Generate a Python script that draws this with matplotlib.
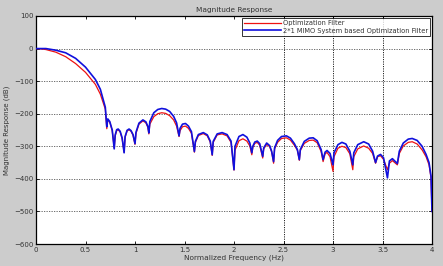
import matplotlib
matplotlib.use("Agg")
import matplotlib.pyplot as plt

title = "Magnitude Response"
xlabel = "Normalized Frequency (Hz)"
ylabel = "Magnitude Response (dB)"
legend_labels = ["Optimization Filter", "2*1 MIMO System based Optimization Filter"]

xticks = [0, 0.5, 1, 1.5, 2, 2.5, 3, 3.5, 4]
xticklabels = ["0", "0.5", "1", "1.5", "2", "2.5", "3", "3.5", "4"]
yticks = [100, 0, -100, -200, -300, -400, -500, -600]

freq = [0, 0.05, 0.1, 0.2, 0.3, 0.4, 0.5, 0.6, 0.65, 0.7, 0.715,
        0.725, 0.745, 0.77, 0.79,
        0.80, 0.815, 0.83, 0.85, 0.87, 0.89,
        0.90, 0.92, 0.94, 0.96, 0.98, 1.00,
        1.01, 1.04, 1.08, 1.11, 1.13, 1.14,
        1.15, 1.19, 1.23, 1.27, 1.31, 1.35, 1.39, 1.42, 1.445,
        1.455, 1.48, 1.51, 1.54, 1.57, 1.60,
        1.61, 1.64, 1.69, 1.73, 1.76, 1.78,
        1.79, 1.83, 1.88, 1.93, 1.97, 2.00,
        2.01, 2.05, 2.09, 2.13, 2.16, 2.18,
        2.19, 2.21, 2.235, 2.26, 2.29,
        2.30, 2.33, 2.36, 2.38, 2.40,
        2.41, 2.44, 2.48, 2.53, 2.57, 2.61, 2.64, 2.66,
        2.67, 2.71, 2.76, 2.80, 2.84, 2.88, 2.90,
        2.92, 2.94, 2.97, 3.00,
        3.01, 3.05, 3.09, 3.13, 3.17, 3.20,
        3.21, 3.25, 3.31, 3.36, 3.40, 3.43,
        3.45, 3.48, 3.51, 3.55,
        3.57, 3.60, 3.65,
        3.67, 3.71, 3.76, 3.80, 3.85, 3.90, 3.94, 3.97, 3.99, 4.0]

red_db = [0, -1, -3, -11, -25, -46, -73, -110, -140, -186, -246,
          -218, -226, -252, -305,
          -268, -252, -249, -256, -277, -318,
          -272, -253, -249, -254, -266, -294,
          -260, -232, -222, -228, -242, -262,
          -232, -209, -200, -197, -199, -206, -219, -238, -270,
          -252, -240, -238, -245, -260, -318,
          -288, -267, -261, -268, -287, -328,
          -288, -265, -262, -268, -288, -373,
          -312, -283, -277, -284, -299, -326,
          -303, -291, -288, -297, -336,
          -308, -294, -301, -317, -352,
          -308, -288, -276, -274, -281, -297, -312, -343,
          -313, -291, -282, -281, -289, -316, -347,
          -323, -319, -332, -377,
          -332, -306, -300, -304, -323, -372,
          -332, -308, -299, -306, -322, -352,
          -332, -329, -340, -372,
          -352, -344, -357,
          -322, -299, -288, -286, -293, -311, -332, -357, -396, -500]

blue_db = [0, 0, 0, -5, -13, -30, -57, -95, -125, -180, -240,
           -216, -224, -250, -308,
           -265, -249, -247, -254, -274, -320,
           -270, -251, -247, -252, -264, -292,
           -257, -229, -219, -225, -239, -259,
           -224, -197, -187, -184, -186, -193, -208, -228, -268,
           -245, -232, -230, -238, -255, -316,
           -285, -264, -258, -265, -284, -326,
           -285, -262, -258, -264, -284, -372,
           -300, -270, -264, -272, -290, -320,
           -300, -287, -284, -292, -331,
           -305, -290, -298, -315, -347,
           -305, -282, -270, -268, -275, -292, -310, -341,
           -310, -285, -275, -274, -283, -310, -341,
           -318, -313, -322, -357,
           -320, -295, -288, -293, -315, -357,
           -320, -295, -286, -293, -315, -350,
           -330, -325, -335, -397,
           -345, -338, -353,
           -315, -290, -278, -276, -282, -300, -325, -350, -392, -500]

fig = plt.figure(figsize=(4.43, 2.66), dpi=100)
fig.patch.set_facecolor("#cccccc")
ax = fig.add_axes([36 / 443, 22 / 266, 396 / 443, 228 / 266])
ax.set_facecolor("white")

ax.plot(freq, red_db, color="#ee1111", lw=0.9, label=legend_labels[0], zorder=3)
ax.plot(freq, blue_db, color="#1010dd", lw=1.2, label=legend_labels[1], zorder=4)

ax.set_xlim(0, 4)
ax.set_ylim(-600, 100)
ax.set_xticks(xticks)
ax.set_xticklabels(xticklabels)
ax.set_yticks(yticks)

for y in yticks[1:-1]:
    ax.axhline(y, color="#555555", lw=0.6, ls=(0, (1.5, 1.5)), zorder=1)
for x in [2.5, 3, 3.5]:
    ax.axvline(x, color="#222222", lw=0.7, ls=(0, (1.2, 1.2)), zorder=1)

ax.tick_params(direction="in", length=2.5, width=0.6, labelsize=5, colors="black",
               labelcolor="#333333", top=True, right=True, pad=2)
for s in ax.spines.values():
    s.set_linewidth(0.9)
    s.set_color("black")

ax.set_title(title, fontsize=5.3, pad=3, color="#333333")
ax.set_xlabel(xlabel, fontsize=5.3, labelpad=1, color="#333333")
ax.set_ylabel(ylabel, fontsize=5.0, color="#333333")
ax.yaxis.set_label_coords(-0.066, 0.5)

leg = ax.legend(loc="upper right", fontsize=4.8, frameon=True, fancybox=False,
                borderpad=0.35, handlelength=5.5, handletextpad=0.3, labelspacing=0.25,
                borderaxespad=0.25)
leg.get_frame().set_edgecolor("black")
leg.get_frame().set_linewidth(0.7)
for t in leg.get_texts():
    t.set_color("#333333")

fig.savefig("out.png", dpi=100, facecolor=fig.get_facecolor())
